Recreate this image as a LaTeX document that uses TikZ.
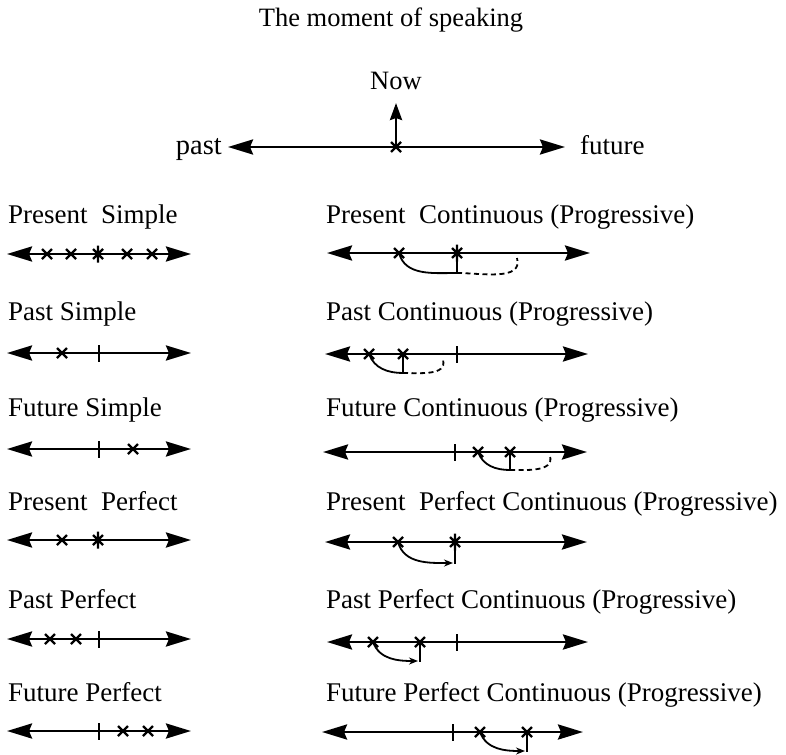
\documentclass[tikz,border=0pt]{standalone}
\usepackage{fontspec}
\setmainfont{Liberation Serif}
\usetikzlibrary{arrows.meta}
\tikzset{
  tl/.style={line width=2.8pt, {Stealth[length=25pt,width=15pt,inset=3pt]}-{Stealth[length=25pt,width=15pt,inset=3pt]}},
  lbl/.style={anchor=base west, font=\fontsize{27}{32}\selectfont, inner sep=0pt},
  ttl/.style={font=\fontsize{26.5}{30}\selectfont, inner sep=0pt},
  conn/.style={line width=1.8pt},
  dconn/.style={line width=1.8pt, dash pattern=on 5pt off 3.5pt},
  aconn/.style={line width=1.8pt, -{Stealth[length=9pt,width=7pt]}},
  xmark/.pic={\draw[line width=2.3pt] (-5pt,-5pt)--(5pt,5pt) (-5pt,5pt)--(5pt,-5pt);},
  smark/.pic={\draw[line width=2.3pt] (-5pt,-5pt)--(5pt,5pt) (-5pt,5pt)--(5pt,-5pt) (0,-8.5pt)--(0,8.5pt);},
  bmark/.pic={\draw[line width=2.3pt] (0,-8.5pt)--(0,8.5pt);}
}
\begin{document}
\begin{tikzpicture}[x=1pt,y=-1pt]
\useasboundingbox (0,0) rectangle (786,754);
% title
\node[ttl] (title) at (391,20) {The moment of speaking};
% top axis
\coordinate (pw) at (228,147);
\coordinate (pe) at (565,147);
\coordinate (now) at (396,147);
\coordinate (nowtip) at (396,103);
\draw[tl] (pw) -- (pe);
\draw[line width=2.8pt, -{Stealth[length=17pt,width=12pt,inset=2pt]}] (now) -- (nowtip);
\pic at (now) {xmark};
\node[ttl, anchor=base] (nowlbl) at (396,90) {Now};
\node[lbl, anchor=base east, font=\fontsize{28.5}{34}\selectfont] (past) at (222,155) {past};
\node[lbl] (future) at (580,155) {future};

% ---------- left column ----------
\node[lbl] (t1) at (8,223) {Present\ \ Simple};
\node[lbl] (t2) at (8,320) {Past Simple};
\node[lbl] (t3) at (8,416) {Future Simple};
\node[lbl] (t4) at (8,510) {Present\ \ Perfect};
\node[lbl] (t5) at (8,608) {Past Perfect};
\node[lbl] (t6) at (8,701) {Future Perfect};

\coordinate (l1w) at (7,254); \coordinate (l1e) at (191,254);
\draw[tl] (l1w) -- (l1e);
\pic at (47,254) {xmark}; \pic at (71,254) {xmark}; \pic at (98,254) {smark};
\pic at (127,254) {xmark}; \pic at (152,254) {xmark};

\coordinate (l2w) at (7,353); \coordinate (l2e) at (191,353);
\draw[tl] (l2w) -- (l2e);
\pic at (62,353) {xmark}; \pic at (99,353) {bmark};

\coordinate (l3w) at (7,449); \coordinate (l3e) at (191,449);
\draw[tl] (l3w) -- (l3e);
\pic at (99,449) {bmark}; \pic at (133,449) {xmark};

\coordinate (l4w) at (7,540); \coordinate (l4e) at (191,540);
\draw[tl] (l4w) -- (l4e);
\pic at (62,540) {xmark}; \pic at (98,540) {smark};

\coordinate (l5w) at (7,639); \coordinate (l5e) at (191,639);
\draw[tl] (l5w) -- (l5e);
\pic at (50,639) {xmark}; \pic at (76,639) {xmark}; \pic at (99,639) {bmark};

\coordinate (l6w) at (7,731); \coordinate (l6e) at (191,731);
\draw[tl] (l6w) -- (l6e);
\pic at (99,731) {bmark}; \pic at (123,731) {xmark}; \pic at (148,731) {xmark};

% ---------- right column ----------
\node[lbl] (u1) at (326,223) {Present\ \ Continuous (Progressive)};
\node[lbl] (u2) at (326,320) {Past Continuous (Progressive)};
\node[lbl] (u3) at (326,416) {Future Continuous (Progressive)};
\node[lbl] (u4) at (326,510) {Present\ \ Perfect Continuous (Progressive)};
\node[lbl] (u5) at (326,608) {Past Perfect Continuous (Progressive)};
\node[lbl] (u6) at (326,701) {Future Perfect Continuous (Progressive)};

% R1 present continuous
\coordinate (r1w) at (327,253); \coordinate (r1e) at (590,253);
\draw[tl] (r1w) -- (r1e);
\coordinate (r1a) at (399,253); \coordinate (r1b) at (457,253);
\coordinate (r1c) at (457,273); \coordinate (r1d) at (517,258);
\draw[conn] (r1a) to[out=-75,in=180] (r1c);
\draw[conn] (r1b) -- (r1c);
\draw[dconn] (r1c) to[out=0,in=-75] (r1d);
\pic at (r1a) {xmark}; \pic at (r1b) {smark};

% R2 past continuous
\coordinate (r2w) at (325,354); \coordinate (r2e) at (588,354);
\draw[tl] (r2w) -- (r2e);
\coordinate (r2a) at (369,354); \coordinate (r2b) at (403,354);
\coordinate (r2c) at (403,373); \coordinate (r2d) at (443,360);
\draw[conn] (r2a) to[out=-70,in=180] (r2c);
\draw[conn] (r2b) -- (r2c);
\draw[dconn] (r2c) to[out=0,in=-75] (r2d);
\pic at (r2a) {xmark}; \pic at (r2b) {xmark}; \pic at (457,354) {bmark};

% R3 future continuous
\coordinate (r3w) at (323,452); \coordinate (r3e) at (587,452);
\draw[tl] (r3w) -- (r3e);
\coordinate (r3a) at (478,452); \coordinate (r3b) at (510,452);
\coordinate (r3c) at (510,470); \coordinate (r3d) at (550,456);
\draw[conn] (r3a) to[out=-70,in=180] (r3c);
\draw[conn] (r3b) -- (r3c);
\draw[dconn] (r3c) to[out=0,in=-75] (r3d);
\pic at (455,452) {bmark}; \pic at (r3a) {xmark}; \pic at (r3b) {xmark};

% R4 present perfect continuous
\coordinate (r4w) at (325,542); \coordinate (r4e) at (587,542);
\draw[tl] (r4w) -- (r4e);
\coordinate (r4a) at (398,542); \coordinate (r4b) at (455,542);
\coordinate (r4c) at (455,564); \coordinate (r4t) at (453,563);
\draw[conn] (r4b) -- (r4c);
\draw[aconn] (r4a) to[out=-75,in=180] (r4t);
\pic at (r4a) {xmark}; \pic at (r4b) {smark};

% R5 past perfect continuous
\coordinate (r5w) at (327,642); \coordinate (r5e) at (588,642);
\draw[tl] (r5w) -- (r5e);
\coordinate (r5a) at (373,642); \coordinate (r5b) at (420,642);
\coordinate (r5c) at (420,662); \coordinate (r5t) at (418,661);
\draw[conn] (r5b) -- (r5c);
\draw[aconn] (r5a) to[out=-70,in=180] (r5t);
\pic at (r5a) {xmark}; \pic at (r5b) {xmark}; \pic at (457,642) {bmark};

% R6 future perfect continuous
\coordinate (r6w) at (322,732); \coordinate (r6e) at (583,732);
\draw[tl] (r6w) -- (r6e);
\coordinate (r6a) at (480,732); \coordinate (r6b) at (527,732);
\coordinate (r6c) at (527,752); \coordinate (r6t) at (525,751);
\draw[conn] (r6b) -- (r6c);
\draw[aconn] (r6a) to[out=-70,in=180] (r6t);
\pic at (453,732) {bmark}; \pic at (r6a) {xmark}; \pic at (r6b) {xmark};
\end{tikzpicture}
\end{document}
